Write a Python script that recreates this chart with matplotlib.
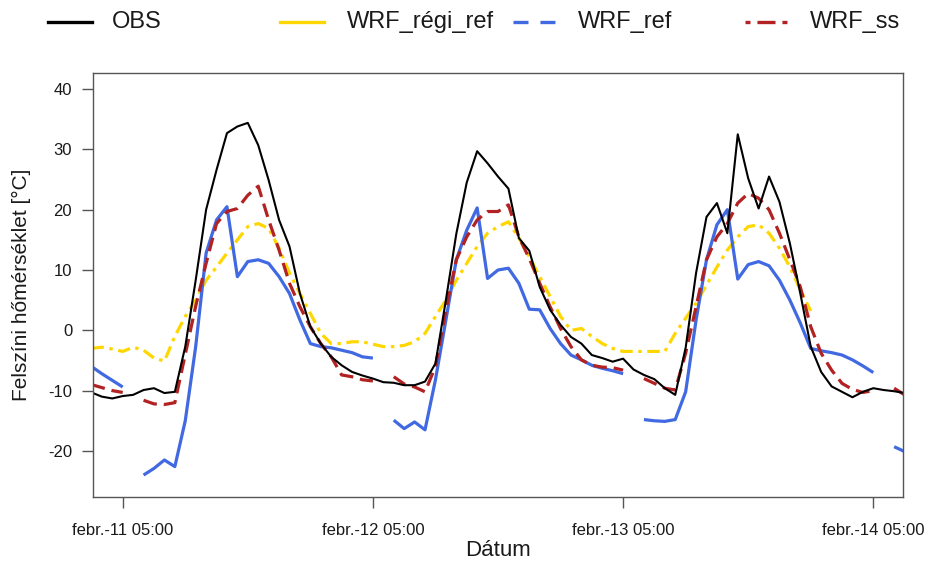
import numpy as np
import pandas as pd
import matplotlib
matplotlib.use("Agg")
import matplotlib.pyplot as plt
import matplotlib.dates as mdates
from matplotlib.lines import Line2D

plt.rcParams['font.family'] = ['Liberation Sans', 'DejaVu Sans']
plt.rcParams['lines.scale_dashes'] = False

# hourly series, febr.-11 02:00 .. febr.-14 08:00
times = pd.date_range('2019-02-11 02:00', periods=79, freq='h')
nan = np.nan

obs = [-10.3, -11.0, -11.3, -10.9, -10.7, -9.9, -9.6, -10.4, -10.2, -2.7,
       8.3, 20.0, 26.6, 32.7, 33.8, 34.4, 30.7, 24.9, 18.3, 13.9,
       6.1, 0.6, -2.2, -4.4, -5.8, -6.9, -7.5, -8.0, -8.6, -8.7,
       -9.1, -9.1, -8.5, -5.5, 5.0, 16.0, 24.5, 29.7, 27.7, 25.5,
       23.5, 15.3, 13.2, 7.2, 3.4, 0.9, -1.1, -2.2, -4.1, -4.6,
       -5.2, -4.7, -6.5, -7.4, -8.1, -9.6, -10.7, -2.9, 9.5, 18.8,
       21.1, 16.1, 32.5, 25.2, 20.2, 25.5, 21.3, 14.4, 6.1, -2.7,
       -6.9, -9.3, -10.2, -11.1, -10.2, -9.6, -9.9, -10.1, -10.4]

wrf_regi_ref = [-3.0, -2.8, -3.1, -3.5, -2.8, -3.3, -4.6, -5.1, -1.0, 2.3,
                5.0, 8.3, 10.5, 12.8, 15.0, 17.2, 17.7, 16.9, 13.6, 9.5,
                6.1, 2.8, -0.5, -2.2, -2.2, -1.9, -1.9, -2.3, -2.7, -2.7,
                -2.5, -1.9, -0.5, 2.3, 5.0, 8.3, 11.1, 13.9, 16.1, 17.2,
                18.0, 15.3, 12.2, 8.9, 5.6, 2.3, 0.0, 0.3, -1.0, -2.2,
                -3.0, -3.5, -3.5, -3.5, -3.5, -3.5, -0.5, 2.0, 4.5, 7.5,
                10.5, 13.3, 15.5, 17.2, 17.5, 16.1, 13.6, 10.5, 6.7, 3.2,
                nan, nan, nan, nan, nan, nan, nan, nan, nan]

wrf_ref = [-6.0, -7.2, -8.3, -9.4, nan, -24.0, -22.9, -21.5, -22.6, -15.0,
           -2.7, 12.8, 18.3, 20.5, 8.9, 11.4, 11.7, 11.1, 8.9, 6.1,
           1.7, -2.2, -2.7, -2.9, -3.3, -3.7, -4.4, -4.6, nan, -14.9,
           -16.3, -15.2, -16.5, -8.2, 1.7, 11.7, 16.6, 20.3, 8.6, 10.0,
           10.3, 7.8, 3.5, 3.4, 0.3, -2.2, -4.1, -4.9, -5.8, -6.3,
           -6.7, -7.2, nan, -14.8, -15.0, -15.1, -14.8, -10.2, 1.7, 11.7,
           17.5, 20.0, 8.5, 10.9, 11.4, 10.7, 8.3, 5.0, 1.2, -3.0,
           -3.4, -3.7, -4.1, -4.9, -5.9, -7.0, nan, -19.3, -20.1]

wrf_ss = [-9.0, -9.5, -10.0, -10.3, nan, -11.6, -12.2, -12.3, -12.0, -4.0,
          4.0, 11.1, 17.7, 19.7, 20.2, 22.4, 23.9, 18.3, 13.3, 7.8,
          3.9, 0.6, -2.2, -4.4, -7.4, -7.7, -8.2, -8.4, nan, -7.7,
          -8.9, -9.4, -10.2, -6.0, 3.4, 11.7, 15.5, 18.3, 19.7, 19.7,
          20.8, 15.5, 11.9, 7.8, 3.9, 0.3, -2.7, -4.9, -5.8, -6.1,
          -6.2, -6.6, nan, -8.0, -8.8, -9.6, -9.9, -3.8, 3.9, 11.7,
          15.5, 17.7, 21.1, 22.7, 21.9, 20.0, 16.1, 11.7, 7.2, 0.6,
          -3.8, -6.6, -8.8, -9.8, -10.3, -10.0, nan, -9.6, -10.7]

tick_times = pd.to_datetime(['2019-02-11 05:00', '2019-02-12 05:00',
                             '2019-02-13 05:00', '2019-02-14 05:00'])
y_ticks = [-20, -10, 0, 10, 20, 30, 40]

names = ['OBS', 'WRF_régi_ref', 'WRF_ref', 'WRF_ss']
colors = ['black', 'gold', 'royalblue', 'firebrick']

W, H = 927, 561
fig = plt.figure(figsize=(W / 100, H / 100), dpi=100)
ax = fig.add_axes([93 / W, 1 - 497 / H, 810 / W, 424 / H])

ax.plot(times, wrf_regi_ref, color=colors[1], lw=2.3, dashes=(9, 4, 2.5, 4))
ax.plot(times, wrf_ref, color=colors[2], lw=2.3, solid_capstyle='butt')
ax.plot(times, wrf_ss, color=colors[3], lw=2.3, dashes=(10, 5))
ax.plot(times, obs, color=colors[0], lw=1.5)

hour = pd.Timedelta(hours=1)
ax.set_xlim(times[0] + 0.15 * hour, times[0] + 77.85 * hour)
ax.set_ylim(-27.64, 42.67)
ax.set_yticks(y_ticks)
ax.set_yticklabels([str(v) for v in y_ticks])
ax.set_xticks(tick_times)
ax.xaxis.set_major_formatter(mdates.DateFormatter('febr.-%d %H:%M'))

for s in ax.spines.values():
    s.set_color('#555555')
    s.set_linewidth(1.0)
ax.tick_params(axis='both', color='#555555', length=8, width=1.0,
               labelcolor='#1a1a1a', labelsize=12)
ax.tick_params(axis='y', pad=7)
ax.tick_params(axis='x', pad=11)

ax.set_xlabel('Dátum', fontsize=16, color='#1a1a1a')
ax.xaxis.set_label_coords(0.5, -0.125)
ax.xaxis.label.set_va('center')
ax.set_ylabel('Felszíni hőmérséklet [°C]', fontsize=15, color='#1a1a1a')
ax.yaxis.set_label_coords(-0.088, 0.5)
ax.yaxis.label.set_va('center')

# legend row above the panel
leg_styles = [dict(ls='-'), dict(ls='-'), dict(dashes=(10.8, 8.6)),
              dict(dashes=(3.6, 5, 13, 5))]
line_x = [48, 280, 513, 745]
text_x = [112, 347, 578, 810]
ly = 1 - 21.7 / H
for name, col, st, lx, tx in zip(names, colors, leg_styles, line_x, text_x):
    fig.add_artist(Line2D([lx / W, (lx + 44) / W], [ly, ly], color=col,
                          lw=2.4, transform=fig.transFigure, **st))
    fig.text(tx / W, ly, name, fontsize=17, va='center', ha='left',
             color='#1a1a1a')

fig.savefig('out.png', dpi=100)
